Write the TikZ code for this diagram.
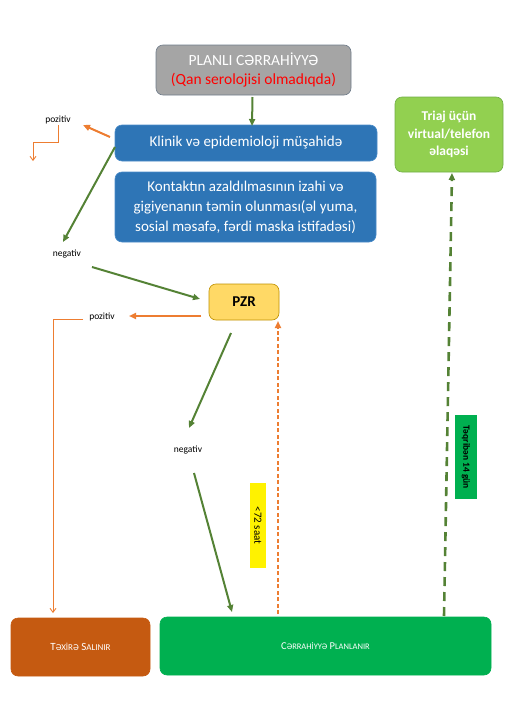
\documentclass[tikz,border=0pt]{standalone}
\usepackage{fontspec}
\setmainfont{Carlito}
\usetikzlibrary{arrows.meta}
\definecolor{grayfill}{HTML}{A5A5A5}
\definecolor{grayline}{HTML}{6F7C8A}
\definecolor{bluefill}{HTML}{2E75B6}
\definecolor{blueline}{HTML}{4A8BC8}
\definecolor{lgfill}{HTML}{92D050}
\definecolor{lgline}{HTML}{70AD47}
\definecolor{pzrfill}{HTML}{FFD966}
\definecolor{pzrline}{HTML}{BF9000}
\definecolor{orarrow}{HTML}{ED7D31}
\definecolor{grarrow}{HTML}{548235}
\definecolor{brfill}{HTML}{C55A11}
\definecolor{gnfill}{HTML}{00B050}
\definecolor{qred}{HTML}{FF0000}
\tikzset{
  box/.style={rounded corners=7pt, draw, line width=0.6pt, align=center, inner sep=0pt, text=white},
  lbl/.style={font=\fontsize{9.5}{10}\selectfont, text=black, inner sep=1pt},
  garrow/.style={draw=grarrow, line width=2pt, -{Triangle[length=7pt,width=6pt]}},
  oarrow/.style={draw=orarrow, line width=2pt, -{Triangle[length=7pt,width=6pt]}},
  othin/.style={draw=orarrow, line width=0.9pt, -{Straight Barb[length=4pt,width=6pt]}},
}
\begin{document}
\begin{tikzpicture}[x=1pt,y=-1pt]
\useasboundingbox (0,0) rectangle (509,720);
% boxes
\node[box, fill=grayfill, draw=grayline, minimum width=195pt, minimum height=50pt,
  font=\fontsize{15.5}{19}\selectfont] (top) at (253.5,70)
  {PLANLI CƏRRAHİYYƏ\\\textcolor{qred}{(Qan serolojisi olmadıqda)}};
\node[box, fill=bluefill, draw=blueline, minimum width=262pt, minimum height=36pt,
  font=\fontsize{15}{18}\selectfont] (klinik) at (246,143)
  {Klinik və epidemioloji müşahidə};
\node[box, fill=bluefill, draw=blueline, minimum width=261pt, minimum height=70pt,
  font=\fontsize{15}{20}\selectfont] (kontakt) at (245.5,207)
  {Kontaktın azaldılmasının izahi və\\gigiyenanın təmin olunması(əl yuma,\\sosial məsafə, fərdi maska istifadəsi)};
\node[box, fill=lgfill, draw=lgline, minimum width=108pt, minimum height=75pt,
  font=\bfseries\fontsize{13.5}{17.5}\selectfont] (triaj) at (449,134.5)
  {Triaj üçün\\virtual/telefon\\əlaqəsi};
\node[box, fill=pzrfill, draw=pzrline, text=black, minimum width=70pt, minimum height=36pt,
  font=\bfseries\fontsize{15}{18}\selectfont] (pzr) at (244,302) {PZR};
\node[box, fill=brfill, draw=brfill, minimum width=139pt, minimum height=58pt,
  font=\fontsize{11}{12}\selectfont] (texire) at (80.5,647)
  {T{\fontsize{9}{12}\selectfont ƏXİRƏ} S{\fontsize{9}{12}\selectfont ALINIR}};
\node[box, fill=gnfill, draw=gnfill, minimum width=331pt, minimum height=58pt,
  font=\fontsize{10.5}{12}\selectfont] (cerr) at (325.5,646)
  {C{\fontsize{8.5}{12}\selectfont ƏRRAHİYYƏ} P{\fontsize{8.5}{12}\selectfont LANLANIR}};
\node[fill=yellow, rotate=-90, minimum width=85pt, minimum height=16pt, inner sep=0pt,
  font=\fontsize{11}{12}\selectfont] (saat) at (258,525.5) {<72 saat};
\node[fill=gnfill, rotate=-90, minimum width=84pt, minimum height=22pt, inner sep=0pt,
  font=\bfseries\fontsize{9.5}{10}\selectfont] (gun) at (466,457) {Təqribən 14 gün};
% labels
\node[lbl] (pos1) at (58,120) {pozitiv};
\node[lbl] (neg1) at (67,254) {negativ};
\node[lbl] (pos2) at (102,317) {pozitiv};
\node[lbl] (neg2) at (188,450) {negativ};
% coordinates
\coordinate (c1) at (252.5,97);
\coordinate (c2) at (252,126);
\coordinate (c3) at (110,137);
\coordinate (c4) at (83,125);
\coordinate (c5) at (58,142);
\coordinate (c6) at (33,161);
\coordinate (c7) at (115,147);
\coordinate (c8) at (63,242);
\coordinate (c9) at (92,267);
\coordinate (c10) at (200,299);
\coordinate (c11) at (201,316);
\coordinate (c12) at (129,316);
\coordinate (c13) at (83,319);
\coordinate (c14) at (53,613);
\coordinate (c15) at (231,333);
\coordinate (c16) at (189,428);
\coordinate (c17) at (194,473);
\coordinate (c18) at (232,612);
\coordinate (c19) at (278,614);
\coordinate (c20) at (278,321);
\coordinate (c21) at (444,616);
\coordinate (c22) at (452,173);
% connectors
\draw[garrow] (c1) -- (c2);
\draw[oarrow] (c3) -- (c4);
\draw[othin] (pos1.south) -- (c5) -| (c6);
\draw[garrow] (c7) -- (c8);
\draw[garrow] (c9) -- (c10);
\draw[oarrow] (c11) -- (c12);
\draw[othin] (c13) -| (c14);
\draw[garrow] (c15) -- (c16);
\draw[garrow] (c17) -- (c18);
\draw[draw=orarrow, line width=2pt, dash pattern=on 4pt off 2.5pt, -{Triangle[length=7pt,width=6pt]}] (c19) -- (c20);
\draw[draw=grarrow, line width=2.6pt, dash pattern=on 9pt off 6pt, -{Triangle[length=7pt,width=6pt]}] (c21) -- (c22);
\end{tikzpicture}
\end{document}
